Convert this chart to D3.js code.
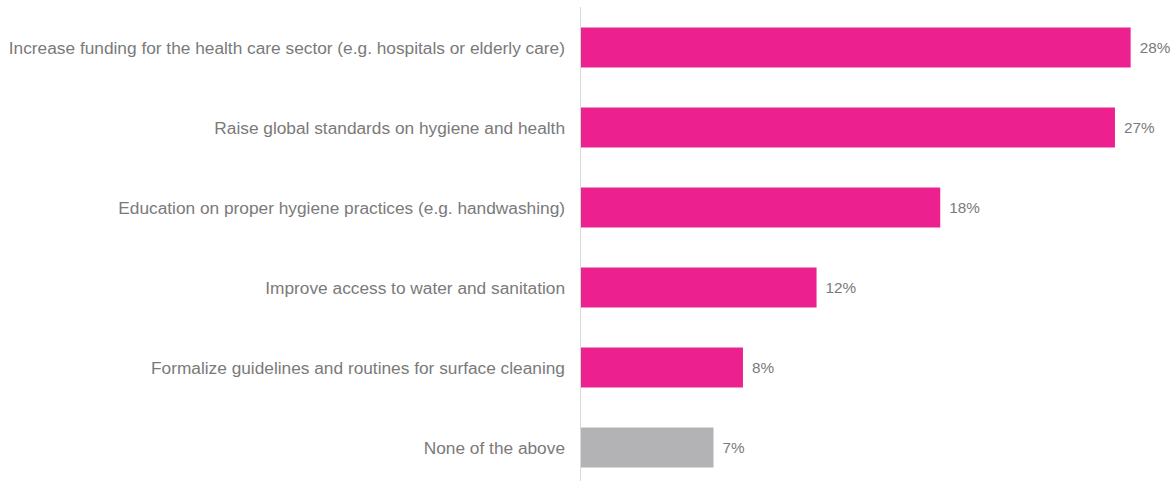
<!DOCTYPE html>
<html><head><meta charset="utf-8">
<script src="https://cdn.jsdelivr.net/npm/d3@7"></script>
<style>body{margin:0;background:#fff}svg{display:block}</style>
</head><body>
<svg id="c" width="1173" height="481"></svg>
<script>
const categories = [
  "Increase funding for the health care sector (e.g. hospitals or elderly care)",
  "Raise global standards on hygiene and health",
  "Education on proper hygiene practices (e.g. handwashing)",
  "Improve access to water and sanitation",
  "Formalize guidelines and routines for surface cleaning",
  "None of the above"
];
const values = [28.0, 27.2, 18.3, 12.0, 8.25, 6.75];
const valueLabels = ["28%", "27%", "18%", "12%", "8%", "7%"];
const barColors = ["#EC208F","#EC208F","#EC208F","#EC208F","#EC208F","#B3B3B6"];

const svg = d3.select("#c");
const left = 581;
const x = d3.scaleLinear().domain([0, 30]).range([left, left + 19.63*30]);
const y = d3.scaleBand().domain(categories).range([7.5, 487.5]).paddingInner(0.5).paddingOuter(0.25);

svg.append("line").attr("x1",580.5).attr("x2",580.5).attr("y1",7).attr("y2",481)
  .attr("stroke","#d9d9d9").attr("stroke-width",1);

svg.selectAll("rect.bar").data(categories).join("rect")
  .attr("x", x(0)).attr("y", d=>y(d)).attr("height", y.bandwidth())
  .attr("width", (d,i)=>x(values[i])-x(0)).attr("fill",(d,i)=>barColors[i]);

svg.selectAll("text.cat").data(categories).join("text")
  .attr("x", 565).attr("y", d=>y(d)+y.bandwidth()/2).attr("dy","0.35em")
  .attr("text-anchor","end").attr("font-family","Liberation Sans, Arial, sans-serif")
  .attr("font-size",17.3).attr("fill","#7a7a7a").text(d=>d);

svg.selectAll("text.val").data(categories).join("text")
  .attr("x", (d,i)=>x(values[i])+9).attr("y", d=>y(d)+y.bandwidth()/2).attr("dy","0.35em")
  .attr("font-family","Liberation Sans, Arial, sans-serif")
  .attr("font-size",15.3).attr("fill","#7a7a7a").text((d,i)=>valueLabels[i]);
</script>
</body></html>
